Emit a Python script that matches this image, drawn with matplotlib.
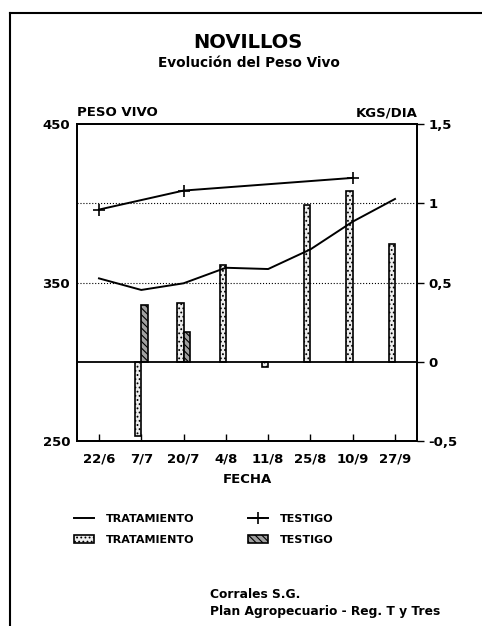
import numpy as np
import matplotlib
matplotlib.use("Agg")
import matplotlib.pyplot as plt
from matplotlib.lines import Line2D
from matplotlib.patches import Patch

plt.rcParams["font.family"] = ["DejaVu Sans"]
plt.rcParams["font.weight"] = "bold"
plt.rcParams["hatch.linewidth"] = 0.8

fechas = ["22/6", "7/7", "20/7", "4/8", "11/8", "25/8", "10/9", "27/9"]

# peso vivo (kg), eje izquierdo
peso_tratamiento = [352.6, 345.3, 349.5, 359.3, 358.5, 370.9, 388.4, 402.7]
peso_testigo = [396, np.nan, 408, np.nan, np.nan, np.nan, 416, np.nan]

# ganancia diaria (kgs/dia), eje derecho
gan_tratamiento = [np.nan, -0.47, 0.37, 0.61, -0.03, 0.99, 1.08, 0.74]
gan_testigo = [np.nan, 0.36, 0.19, np.nan, np.nan, np.nan, np.nan, np.nan]

x = np.arange(len(fechas))
bar_w = 0.15

fig = plt.figure(figsize=(4.82, 6.26), dpi=100)
ax = fig.add_axes([77 / 482, 1 - 441 / 626, 340 / 482, 317 / 626])
ax2 = ax.twinx()
ax.set_zorder(ax2.get_zorder() + 1)
ax.patch.set_visible(False)

# barras de ganancia diaria
trat_style = dict(facecolor="#ededed", edgecolor="black", hatch="....", linewidth=1.2)
test_style = dict(facecolor="#a0a0a0", edgecolor="black", hatch="\\\\\\\\\\", linewidth=1.2)
ax2.bar(x, gan_tratamiento, width=-bar_w, align="edge", **trat_style)
ax2.bar(x, gan_testigo, width=bar_w, align="edge", **test_style)
ax2.axhline(0, color="black", lw=1.3, zorder=3)
ax2.set_ylim(-0.5, 1.5)
ax2.set_yticks([-0.5, 0, 0.5, 1, 1.5])
ax2.set_yticklabels(["-0,5", "0", "0,5", "1", "1,5"])
ax2.tick_params(axis="y", direction="out", length=5, width=1, labelsize=9.5, pad=3)

# lineas de peso vivo
ax.axhline(350, color="black", lw=0.8, ls=":")
ax.axhline(400, color="black", lw=0.8, ls=":")
l_trat, = ax.plot(x, peso_tratamiento, color="black", lw=1.4)
pt = np.array(peso_testigo)
m = ~np.isnan(pt)
l_test, = ax.plot(x[m], pt[m], color="black", lw=1.4, marker="+", ms=8, mew=1.2)

ax.set_xlim(-0.52, 7.52)
ax.set_ylim(250, 450)
ax.set_yticks([250, 350, 450])
ax.set_xticks(x)
ax.set_xticklabels(fechas)
ax.tick_params(axis="x", direction="in", length=5, width=1, labelsize=9.5, pad=8)
ax.tick_params(axis="y", direction="in", length=0, labelsize=9.5, pad=5)
for a in (ax, ax2):
    for s in a.spines.values():
        s.set_linewidth(1.3)

ax.set_xlabel("FECHA", fontsize=9.5, fontweight="bold", labelpad=6)
fig.text(77 / 482, 1 - 112 / 626, "PESO VIVO", fontsize=9.5, ha="left", va="center")
fig.text(418 / 482, 1 - 113 / 626, "KGS/DIA", fontsize=9.5, ha="right", va="center")

fig.text(248 / 482, 1 - 42 / 626, "NOVILLOS", fontsize=14, ha="center", va="center")
fig.text(249 / 482, 1 - 63 / 626, "Evolución del Peso Vivo", fontsize=9.8,
         ha="center", va="center")

fig.legend([l_trat, Patch(**trat_style), l_test, Patch(**test_style)],
           ["TRATAMIENTO", "TRATAMIENTO", "TESTIGO", "TESTIGO"],
           ncol=2, loc="upper left", bbox_to_anchor=(74 / 482, 1 - 514 / 626),
           frameon=False, fontsize=8, handlelength=1.8, handletextpad=1.1,
           columnspacing=4.75, labelspacing=0.95, borderpad=0, borderaxespad=0)

fig.text(210 / 482, 1 - 595 / 626, "Corrales S.G.", fontsize=8.8, ha="left", va="center")
fig.text(210 / 482, 1 - 611 / 626, "Plan Agropecuario - Reg. T y Tres", fontsize=8.8,
         ha="left", va="center")

# marco
fig.add_artist(Line2D([9.5 / 482, 9.5 / 482], [0, 1 - 13 / 626], color="black", lw=1.5))
fig.add_artist(Line2D([9.5 / 482, 1], [1 - 13 / 626, 1 - 13 / 626], color="black", lw=1.5))

fig.savefig("out.png", dpi=100)
